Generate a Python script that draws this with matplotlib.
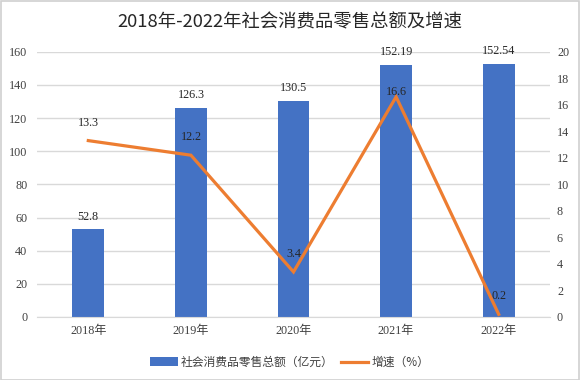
import matplotlib
matplotlib.use("Agg")
import matplotlib.pyplot as plt
from matplotlib.patches import Rectangle

categories = ["2018年", "2019年", "2020年", "2021年", "2022年"]
sales = [52.8, 126.3, 130.5, 152.19, 152.54]
sales_labels = ["52.8", "126.3", "130.5", "152.19", "152.54"]
growth = [13.3, 12.2, 3.4, 16.6, 0.2]
growth_labels = ["13.3", "12.2", "3.4", "16.6", "0.2"]
left_ticks = [0, 20, 40, 60, 80, 100, 120, 140, 160]
right_ticks = [0, 2, 4, 6, 8, 10, 12, 14, 16, 18, 20]

growth_label_offsets = [13, 13, 13, 3.5, 13]  # points above marker

BLUE = "#4472C4"
ORANGE = "#ED7D31"
GRID = "#D9D9D9"
TXT = "#404040"
LBL = "#262626"
NUMFONT = ["Liberation Serif", "Noto Sans CJK SC"]
CJK = ["Noto Sans CJK SC", "DejaVu Sans"]

fig = plt.figure(figsize=(5.8, 3.8), dpi=100)
fig.patches.append(Rectangle((0.001, 0.001), 0.997, 0.996, transform=fig.transFigure,
                             fill=False, edgecolor="#D0D0D0", linewidth=1.2))

ax = fig.add_axes([0.0638, 0.1658, 0.8845, 0.698])
x = list(range(len(categories)))
bars = ax.bar(x, sales, width=0.31, color=BLUE, zorder=2, label="社会消费品零售总额（亿元）")
ax.set_ylim(0, 160)
ax.set_xlim(-0.5, len(categories) - 0.5)
ax.set_yticks(left_ticks)
ax.yaxis.grid(True, color=GRID, linewidth=1)
ax.set_axisbelow(True)
for s in ["top", "left", "right"]:
    ax.spines[s].set_visible(False)
ax.spines["bottom"].set_color(GRID)
ax.tick_params(axis="both", length=0, colors=TXT, labelsize=8.7)
ax.set_xticks(x)
ax.set_xticklabels(categories, family=NUMFONT, fontsize=8.7, color=TXT)
for lab in ax.get_yticklabels():
    lab.set_family(NUMFONT)
ax.tick_params(axis="y", pad=7)
ax.tick_params(axis="x", pad=6)

for xi, v, t in zip(x, sales, sales_labels):
    ax.annotate(t, (xi, v), xytext=(0, 5), textcoords="offset points",
                ha="center", va="bottom", family=NUMFONT, fontsize=8.7, color=LBL, zorder=5)

ax2 = ax.twinx()
line, = ax2.plot(x, growth, color=ORANGE, linewidth=2.3, zorder=3, label="增速（%）",
                 solid_joinstyle="miter")
ax2.set_ylim(0, 20)
ax2.set_yticks(right_ticks)
for s in ["top", "left", "right", "bottom"]:
    ax2.spines[s].set_visible(False)
ax2.tick_params(axis="y", length=0, colors=TXT, labelsize=8.7, pad=5)
for lab in ax2.get_yticklabels():
    lab.set_family(NUMFONT)

for xi, v, t, off in zip(x, growth, growth_labels, growth_label_offsets):
    ax2.annotate(t, (xi, v), xytext=(0, off), textcoords="offset points",
                 ha="center", va="center", family=NUMFONT, fontsize=8.7, color=LBL, zorder=5)

fig.text(0.5, 0.942, "2018年-2022年社会消费品零售总额及增速", ha="center", va="center",
         family=CJK, fontsize=13.2, color="#262626")

leg = fig.legend([bars, line], ["社会消费品零售总额（亿元）", "增速（%）"],
                 loc="center", bbox_to_anchor=(0.5, 0.047), ncol=2, frameon=False,
                 prop={"family": CJK, "size": 8.5}, handlelength=2.3, handletextpad=0.3,
                 columnspacing=0.6)
for t in leg.get_texts():
    t.set_color(TXT)

fig.savefig("out.png", dpi=100)
